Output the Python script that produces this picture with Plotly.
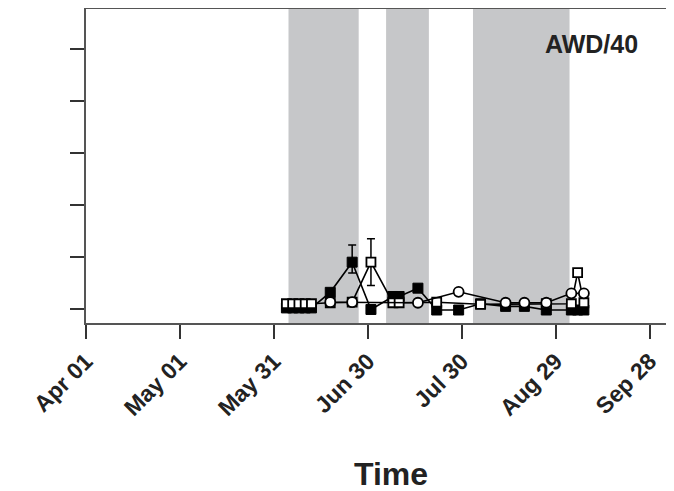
import plotly.graph_objects as go

# ---- data ----
filled_dates = ["2013-06-04", "2013-06-06", "2013-06-08", "2013-06-10", "2013-06-12",
                "2013-06-18", "2013-06-25", "2013-07-01", "2013-07-08", "2013-07-10",
                "2013-07-16", "2013-07-22", "2013-07-29", "2013-08-05", "2013-08-13",
                "2013-08-19", "2013-08-26", "2013-09-03", "2013-09-05", "2013-09-07"]
filled_vals = [0.02, 0.02, 0.02, 0.02, 0.02, 0.32, 0.9, -0.01, 0.24, 0.24,
               0.4, -0.02, -0.02, 0.1, 0.05, 0.05, -0.02, -0.02, -0.02, -0.02]
filled_err_up = [0, 0, 0, 0, 0, 0, 0.33, 0, 0, 0, 0, 0, 0, 0, 0, 0, 0, 0, 0, 0]
filled_err_dn = [0, 0, 0, 0, 0, 0, 0.21, 0, 0, 0, 0, 0, 0, 0, 0, 0, 0, 0, 0, 0]

opensq_dates = ["2013-06-04", "2013-06-06", "2013-06-08", "2013-06-10", "2013-06-12",
                "2013-06-18", "2013-06-25", "2013-07-01", "2013-07-08", "2013-07-10",
                "2013-07-22", "2013-08-05", "2013-08-26", "2013-09-03", "2013-09-05",
                "2013-09-07"]
opensq_vals = [0.1, 0.1, 0.1, 0.1, 0.1, 0.12, 0.13, 0.9, 0.12, 0.12,
               0.13, 0.09, 0.1, 0.1, 0.7, 0.12]
opensq_err = [0, 0, 0, 0, 0, 0, 0, 0.45, 0, 0, 0, 0, 0, 0, 0, 0]

circle_dates = ["2013-06-18", "2013-06-25", "2013-07-16", "2013-07-29", "2013-08-13",
                "2013-08-19", "2013-08-26", "2013-09-03", "2013-09-07"]
circle_vals = [0.13, 0.13, 0.12, 0.33, 0.12, 0.12, 0.12, 0.3, 0.3]

shade_starts = ["2013-06-04 16:00", "2013-07-05 20:00", "2013-08-02 14:00"]
shade_ends = ["2013-06-27 02:00", "2013-07-19 12:00", "2013-09-02 10:00"]

tick_dates = ["2013-04-01", "2013-05-01", "2013-05-31", "2013-06-30",
              "2013-07-30", "2013-08-29", "2013-09-28"]
tick_labels = ["Apr 01", "May 01", "May 31", "Jun 30", "Jul 30", "Aug 29", "Sep 28"]
y_ticks = [0, 1, 2, 3, 4, 5]

panel_label = "AWD/40"
x_title = "Time"

# ---- figure ----
fig = go.Figure()

line_style = dict(color="black", width=1.6)

fig.add_trace(go.Scatter(
    x=filled_dates, y=filled_vals, mode="lines+markers",
    line=line_style,
    marker=dict(symbol="square", size=10, color="black",
                line=dict(color="black", width=1)),
    error_y=dict(type="data", array=filled_err_up, arrayminus=filled_err_dn,
                 symmetric=False, color="black", thickness=1.5, width=4),
    showlegend=False))

fig.add_trace(go.Scatter(
    x=opensq_dates, y=opensq_vals, mode="lines+markers",
    line=line_style,
    marker=dict(symbol="square", size=9, color="white",
                line=dict(color="black", width=1.8)),
    error_y=dict(type="data", array=opensq_err, color="black", thickness=1.5, width=4),
    showlegend=False))

fig.add_trace(go.Scatter(
    x=circle_dates, y=circle_vals, mode="lines+markers",
    line=line_style,
    marker=dict(symbol="circle", size=10, color="white",
                line=dict(color="black", width=1.8)),
    showlegend=False))

for s, e in zip(shade_starts, shade_ends):
    fig.add_shape(type="rect", xref="x", yref="paper", x0=s, x1=e, y0=0, y1=1,
                  fillcolor="#c6c7c9", line=dict(width=0), layer="below")

fig.add_annotation(text=panel_label, xref="paper", yref="paper", x=0.9486, y=0.89,
                   xanchor="right", yanchor="middle", showarrow=False,
                   font=dict(family="Liberation Sans, Arial", size=25, color="#222",
                             weight="bold"))

fig.add_annotation(text=x_title, xref="paper", yref="paper", x=0.522, y=-0.48,
                   xanchor="center", yanchor="middle", showarrow=False,
                   font=dict(family="Liberation Sans, Arial", size=32, color="#222",
                             weight="bold"))

fig.update_layout(
    width=666, height=483,
    margin=dict(l=78, r=4, t=1, b=168),
    plot_bgcolor="white", paper_bgcolor="white",
    font=dict(family="Liberation Sans, Arial", color="#222"),
    xaxis=dict(
        type="date", range=["2013-04-01", "2013-10-04 12:00"],
        tickvals=tick_dates, ticktext=tick_labels, tickangle=-45,
        ticks="outside", ticklen=14, tickwidth=1.5, tickcolor="#333",
        showline=True, linecolor="#555", linewidth=1.5, mirror=True,
        showgrid=False, zeroline=False, automargin=False,
        tickfont=dict(size=23, weight="bold", color="#222"),
    ),
    yaxis=dict(
        range=[-0.27, 5.77], tickvals=y_ticks, showticklabels=False,
        ticks="outside", ticklen=14, tickwidth=1.5, tickcolor="#333",
        showline=True, linecolor="#555", linewidth=1.5, mirror=True,
        showgrid=False, zeroline=False, automargin=False,
    ),
)

fig.write_html("out.html")
